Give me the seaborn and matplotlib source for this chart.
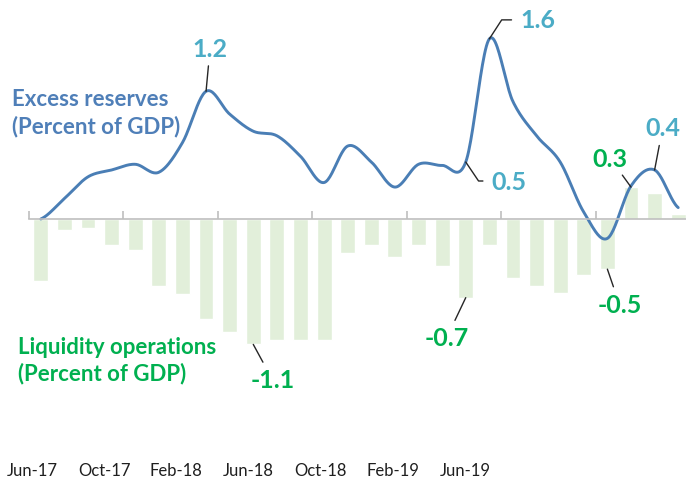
import numpy as np
import pandas as pd
import matplotlib
matplotlib.use('Agg')
import matplotlib.pyplot as plt
import seaborn as sns

# ── Data ──────────────────────────────────────────────────────────────────────
months = pd.date_range('2017-06-01', periods=28, freq='MS').strftime('%b-%y').tolist()

liquidity_ops = [-0.54, -0.10, -0.08, -0.23, -0.27, -0.59, -0.66, -0.88, -0.99, -1.10,
                 -1.06, -1.06, -1.06, -0.30, -0.23, -0.33, -0.23, -0.41, -0.69, -0.23,
                 -0.52, -0.59, -0.65, -0.49, -0.44, 0.28, 0.23, 0.04]

excess_reserves = [0.00, 0.18, 0.37, 0.43, 0.48, 0.41, 0.67, 1.12, 0.92, 0.77,
                   0.73, 0.55, 0.32, 0.64, 0.50, 0.28, 0.48, 0.47, 0.50, 1.58,
                   1.03, 0.73, 0.50, 0.06, -0.17, 0.29, 0.43, 0.10]

tick_labels = ['Jun-17', 'Oct-17', 'Feb-18', 'Jun-18', 'Oct-18', 'Feb-19', 'Jun-19']

# ── Palette ───────────────────────────────────────────────────────────────────
C = {
    'bar':   '#E2EFDA',
    'line':  '#4A7EB5',
    'blue':  '#4BACC6',
    'title': '#4F7FB8',
    'green': '#00B050',
    'axis':  '#BFBFBF',
    'text':  '#1F1F1F',
    'lead':  '#262626',
}
FONT = ['Lato', 'DejaVu Sans']


def smooth(y, n=24):
    # Catmull-Rom path through the monthly points (Excel-style smoothed line)
    y = np.asarray(y, float)
    p = np.concatenate([[y[0]], y, [y[-1]]])
    xs, ys = [], []
    for i in range(len(y) - 1):
        p0, p1, p2, p3 = p[i], p[i + 1], p[i + 2], p[i + 3]
        t = np.linspace(0, 1, n, endpoint=False)
        ys.append(0.5 * (2 * p1 + (-p0 + p2) * t + (2 * p0 - 5 * p1 + 4 * p2 - p3) * t ** 2
                         + (-p0 + 3 * p1 - 3 * p2 + p3) * t ** 3))
        xs.append(i + t)
    xs.append([len(y) - 1]); ys.append([y[-1]])
    return np.concatenate(xs), np.concatenate(ys)


sns.set_style('white')
plt.rcParams['font.family'] = FONT

fig = plt.figure(figsize=(6.86, 4.85), dpi=100)
ax = fig.add_axes([29 / 686, 30 / 485, 657 / 686, 455 / 485])

df = pd.DataFrame({'month': months, 'ops': liquidity_ops})
sns.barplot(data=df, x='month', y='ops', color=C['bar'], saturation=1,
            width=0.63, ax=ax)

sx, sy = smooth(excess_reserves)
sns.lineplot(x=sx, y=sy, color=C['line'], lw=2.1, sort=False, estimator=None, ax=ax)

ax.set_xlim(-0.5, 27.33)
ax.set_ylim(-(455 - 220) / 114, 220 / 114)
ax.set_xlabel(''); ax.set_ylabel('')
for s in ['top', 'right', 'left']:
    ax.spines[s].set_visible(False)
ax.spines['bottom'].set_position(('data', 0))
ax.spines['bottom'].set_color(C['axis'])
ax.spines['bottom'].set_linewidth(1.2)
ax.set_yticks([])
ax.set_xticks(np.arange(-0.5, 24, 4))
ax.set_xticklabels([])
ax.tick_params(axis='x', bottom=True, direction='in', length=6, width=1.2, color=C['axis'])

# category labels sit at the bottom of the chart
sec = ax.secondary_xaxis(location=0)
sec.set_xticks(np.arange(len(tick_labels)) * 3.06 - 0.38)
sec.set_xticklabels(tick_labels)
sec.tick_params(length=0, pad=6, labelsize=12, labelcolor=C['text'])
sec.spines['bottom'].set_visible(False)

# ── Annotations ───────────────────────────────────────────────────────────────
lead = dict(arrowstyle='-', color=C['lead'], lw=1.0, shrinkA=2, shrinkB=0)

def note(txt, xy, off, color, **kw):
    ap = dict(lead, **kw.pop('ap', {}))
    ax.annotate(txt, xy=xy, xytext=off, textcoords='offset pixels',
                color=color, fontsize=18, fontweight='bold',
                ha=kw.pop('ha', 'center'), va='center', arrowprops=ap, **kw)

note('1.2', (7, excess_reserves[7]), (4, 43), C['blue'])
note('1.6', (19, excess_reserves[19]), (31, 19), C['blue'], ha='left',
     ap=dict(relpos=(0, 0.5), shrinkA=4, connectionstyle='angle,angleA=0,angleB=57,rad=0'))
note('0.5', (18, excess_reserves[18]), (26, -19), C['blue'], ha='left',
     ap=dict(relpos=(0, 0.5), shrinkA=4, connectionstyle='angle,angleA=0,angleB=-56,rad=0'))
note('0.4', (26, excess_reserves[26]), (8, 42), C['blue'])
note('0.3', (25, liquidity_ops[25]), (-21, 29), C['green'])
note('-1.1', (9, liquidity_ops[9]), (19, -35), C['green'])
note('-0.7', (18, liquidity_ops[18]), (-19, -40), C['green'])
note('-0.5', (24, liquidity_ops[24]), (12, -35), C['green'])

fig.text(12 / 686, 1 - 113 / 485, 'Excess reserves\n(Percent of GDP)', color=C['title'],
         fontsize=16, fontweight='bold', ha='left', va='center', linespacing=1.3)
fig.text(18 / 686, 1 - 361 / 485, 'Liquidity operations\n(Percent of GDP)', color=C['green'],
         fontsize=16, fontweight='bold', ha='left', va='center', linespacing=1.25)

fig.savefig('out.png', dpi=100, facecolor='white')
